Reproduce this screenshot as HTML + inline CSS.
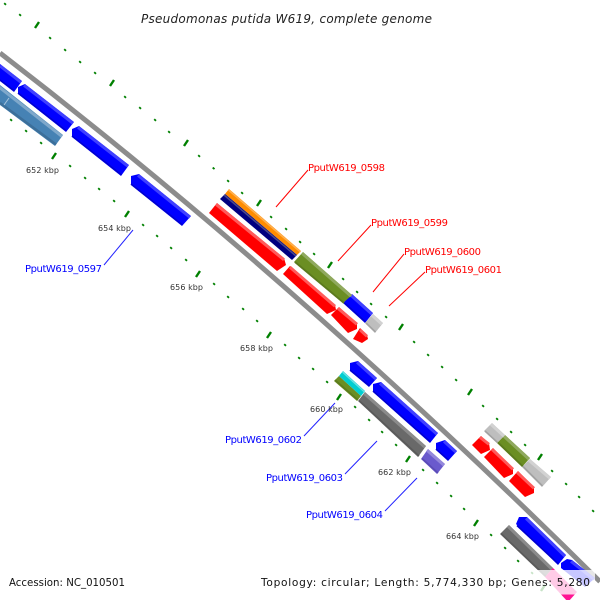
<!DOCTYPE html>
<html><head><meta charset="utf-8"><style>
html,body{margin:0;padding:0;background:#fff}
svg{display:block}
text{font-family:"DejaVu Sans","Liberation Sans",sans-serif}
.k{font-size:8px;fill:#333}
.r{font-size:10px;fill:#f00}
.b{font-size:10px;fill:#00f}
</style></head><body>
<svg width="600" height="600" viewBox="0 0 600 600" xmlns="http://www.w3.org/2000/svg">
<text x="141" y="23" font-size="12" font-style="italic" fill="#222" textLength="291" lengthAdjust="spacing">Pseudomonas putida W619, complete genome</text>

<!-- minor ticks -->
<path fill="none" stroke="#008000" stroke-width="2.4" d="
M4.500 4.700l1.200-1.400M19.500 15.700l1.200-1.400M49.500 38.700l1.200-1.400M64.500 50.700l1.200-1.400M79.500 62.700l1.200-1.400M94.500 73.700l1.200-1.400M124.500 97.700l1.200-1.400M139.500 108.700l1.200-1.400M154.500 120.700l1.200-1.400M168.500 132.700l1.200-1.400M198.500 156.700l1.200-1.400M213 169l1.200-1.400M227.500 181.700l1.200-1.400M241.500 193.700l1.200-1.400M270.500 217.700l1.200-1.400M285.500 229.700l1.200-1.400M299.500 242.700l1.200-1.400M313.500 254.700l1.200-1.400M342.500 279.700l1.200-1.400M356.500 292.700l1.200-1.400M370.500 304.700l1.200-1.400M385.500 317.700l1.200-1.400M413.500 342.700l1.200-1.400M427.500 355.700l1.200-1.400M441.500 367.700l1.200-1.400M455.500 380.700l1.200-1.400M482.500 406.700l1.200-1.400M496.500 419.700l1.200-1.400M510.500 432.700l1.200-1.400M524.500 445.700l1.200-1.400M551.500 471.700l1.200-1.400M565.500 484.700l1.200-1.400M578.500 497.700l1.200-1.400M592.500 511.700l1.200-1.400
M10.500 120.700l1.200-1.400M25.500 131.700l1.200-1.400M40.500 143.700l1.200-1.400M69.500 166.700l1.200-1.400M84.500 178.700l1.200-1.400M98.500 189.700l1.200-1.400M113.500 201.700l1.200-1.400M142.500 225.700l1.200-1.400M156.500 236.700l1.200-1.400M170.500 248.700l1.200-1.400M185.500 260.700l1.200-1.400M213.500 284.700l1.200-1.400M227.500 297.700l1.200-1.400M242.500 309.700l1.200-1.400M256.500 321.700l1.200-1.400M284.500 345.700l1.200-1.400M298.500 358.700l1.200-1.400M312.500 369.700l1.200-1.400M326.500 382.700l1.200-1.400M354.500 407.700l1.200-1.400M368.500 420.700l1.200-1.400M381.500 432.700l1.200-1.400M395.500 445.700l1.200-1.400M422.500 470.700l1.200-1.400M436.500 483.700l1.200-1.400M450.500 496.700l1.200-1.400M463.500 509.700l1.200-1.400M490.500 535.700l1.200-1.400M504.500 548.700l1.200-1.400M517.500 561.700l1.200-1.400M531.500 573.700l1.200-1.400"/>
<!-- major ticks -->
<path fill="none" stroke="#008000" stroke-width="2.4" d="
M35 28l4-6M110 86l4-6M184 146l4-6M257 206l4-6M328 268l4-6M399 330l4-6M468 395l4-6M538 460l4-6
M52 159l4-6M125 217l4-6M196 277l4-6M267 338l4-6M337 400l4-6M406 462l4-6M474 526l4-6M541 591l4-6"/>

<!-- backbone -->
<path d="M0 53Q300 284 600 581.600" fill="none" stroke="#8c8c8c" stroke-width="5"/>

<!-- steel blue -->
<polygon fill="#4682b4" points="0,85 63,135 55,146 0,105"/>
<path stroke="#7fa8cb" stroke-width="3" d="M-1 87L62 136.500"/>
<path stroke="#3c6f9a" stroke-width="2.500" d="M0 103L56 144.500"/>
<path stroke="#a8c4dc" stroke-width="1" d="M9 98L4 105"/>

<!-- blue genes -->
<g fill="#0000ff">
<polygon points="0,64 22,81 14,92 0,81"/>
<polygon points="18,87 25,84 74,122 66,132 18,94"/>
<polygon points="72,129 79,126 129,165 121,176 72,137"/>
<polygon points="131,176 139,174 191,216 182,226 131,185"/>
<polygon points="343,303 352,294 373,313 365,323"/>
<polygon points="350,363 358,361 377,378 369,387 350,371"/>
<polygon points="373,384 381,382 438,433 430,443 373,392"/>
<polygon points="436,443 445,440 457,451 448,461 436,450"/>
<polygon points="516,524 519,517 527,517 566,555 558,565"/>
<polygon points="561,563 567,559 572,560 595,578 585,587 561,568"/>
</g>
<g fill="none" stroke="#4040ff" stroke-width="3">
<path d="M0 65.800L21 82.300"/><path d="M24 85.300L73 123.300"/><path d="M78 127.300L128 166.300"/><path d="M138 175.300L190 217.300"/>
<path d="M351 295.300L372 314.300"/><path d="M357 362.300L376 379.300"/><path d="M380 383.300L437 434.300"/><path d="M444 441.300L456 452.300"/>
<path d="M526 518.300L565 556.300"/><path d="M571 561.300L594 579.300"/>
</g>
<g fill="none" stroke="#0000d0" stroke-width="1.600">
<path d="M0 80L14.500 91"/><path d="M18 93L66.500 131"/><path d="M72 136L121.500 175"/><path d="M131 184L182.500 225"/>
<path d="M344 302.500L365.500 322"/><path d="M350 370L369.500 386"/><path d="M373 391L430.500 442"/><path d="M436 449L448.500 460"/>
<path d="M517 525.500L558.500 564"/>
</g>

<!-- red genes -->
<g fill="#ff0000">
<polygon points="209,213 217,203 284,258 286,265 277,271"/>
<polygon points="283,274 290,266 335,305 336,310 327,314"/>
<polygon points="331,315 339,307 357,323 357,329 348,333"/>
<polygon points="353,339 360,328 367,335 368,339 362,343"/>
<polygon points="472,445 481,436 489,443 490,450 481,454"/>
<polygon points="484,457 493,448 513,468 513,474 504,478"/>
<polygon points="509,481 518,471 534,487 534,493 525,497"/>
</g>
<g fill="none" stroke="#ff5a5a" stroke-width="3">
<path d="M216 204.300L284 259.800"/><path d="M290 267.300L335 306.300"/><path d="M338 308.300L357 324.300"/><path d="M360 329.800L367 336.300"/>
<path d="M480 437.300L489 444.300"/><path d="M492 449.300L513 469.300"/><path d="M517 472.300L534 488.300"/>
</g>

<!-- orange / navy -->
<polygon fill="#ff8c00" points="225,194 229,189 301,251 297,255"/>
<path stroke="#ffb050" stroke-width="1.500" d="M228.500 190L300.500 252"/>
<polygon fill="#000080" points="220,199 225,194 297,255 292,260"/>
<path stroke="#4a4a8c" stroke-width="1.500" d="M224 195L296 256"/>

<!-- olive -->
<polygon fill="#6b8e23" points="294,262 303,252 352,295 343,303"/>
<path stroke="#90a95e" stroke-width="3" d="M302 253.300L351 296.300"/>
<path stroke="#5b7a1e" stroke-width="1.800" d="M295 262L344 303"/>
<polygon fill="#6b8e23" points="334,381 339,376 361,396 357,401"/>
<path stroke="#5b7a1e" stroke-width="1.500" d="M335 380L358 400"/>
<polygon fill="#6b8e23" points="497,443 505,435 530,458 522,467"/>
<path stroke="#90a95e" stroke-width="3" d="M504 436.300L529 459.300"/>
<path stroke="#5b7a1e" stroke-width="1.800" d="M498 442.500L523 466.500"/>

<!-- cyan -->
<polygon fill="#00ced1" points="339,376 343,371 365,391 361,396"/>
<path stroke="#66e0e2" stroke-width="1.500" d="M342.500 372L364.500 392"/>

<!-- light grey -->
<g fill="#bebebe">
<polygon points="365,323 373,314 383,323 375,333"/>
<polygon points="484,431 492,423 505,435 497,443"/>
<polygon points="522,467 530,459 551,477 542,487"/>
</g>
<g stroke="#d2d2d2" stroke-width="3">
<path d="M372 315.300L382 324.300"/><path d="M491 424.300L504 436.300"/><path d="M529 460.300L550 478.300"/>
</g>
<g stroke="#a2a2a2" stroke-width="1.600">
<path d="M366 323L375.500 332"/><path d="M485 431L497.500 442.500"/><path d="M523 466.500L542.500 486"/>
</g>

<!-- dark grey -->
<g fill="#696969">
<polygon points="358,401 365,392 426,446 418,457"/>
<polygon points="500,534 509,525 553,568 545,577"/>
</g>
<g stroke="#8b8b8b" stroke-width="3">
<path d="M364 393.300L425 447.300"/><path d="M508 526.300L552 569.300"/>
</g>
<g stroke="#5a5a5a" stroke-width="1.600">
<path d="M359 400.500L419 456"/><path d="M501 533.500L546 576.500"/>
</g>

<!-- slate -->
<polygon fill="#6a5acd" points="421,459 428,449 445,464 437,474"/>
<path stroke="#9488dc" stroke-width="3" d="M427 450.300L444 465.300"/>
<path stroke="#5a4bb5" stroke-width="1.600" d="M422 458.500L438 473"/>

<!-- pink -->
<polygon fill="#ff1493" points="545,577 553,568 577,592 568,602"/>

<!-- overlays -->
<rect x="255" y="570" width="340" height="24.500" fill="#fff" fill-opacity=".78"/>
<rect x="4" y="570" width="126" height="24.500" fill="#fff" fill-opacity=".78"/>

<!-- leader lines -->
<g stroke="#f00" stroke-width="1" fill="none">
<path d="M276 207L308 170"/><path d="M338 261L371 225"/><path d="M373 292L404 254"/><path d="M389 306L425 272"/>
</g>
<g stroke="#22f" stroke-width="1" fill="none">
<path d="M104 265L133 230"/><path d="M304 436L335 403"/><path d="M345 474L377 441"/><path d="M385 511L417 478"/>
</g>

<!-- labels -->
<text class="r" x="308" y="171" textLength="77">PputW619_0598</text>
<text class="r" x="371" y="226" textLength="77">PputW619_0599</text>
<text class="r" x="404" y="255" textLength="77">PputW619_0600</text>
<text class="r" x="425" y="273" textLength="77">PputW619_0601</text>
<text class="b" x="25" y="272" textLength="77">PputW619_0597</text>
<text class="b" x="225" y="443" textLength="77">PputW619_0602</text>
<text class="b" x="266" y="481" textLength="77">PputW619_0603</text>
<text class="b" x="306" y="518" textLength="77">PputW619_0604</text>

<text class="k" x="26" y="173" textLength="33">652 kbp</text>
<text class="k" x="98" y="231" textLength="33">654 kbp</text>
<text class="k" x="170" y="290" textLength="33">656 kbp</text>
<text class="k" x="240" y="351" textLength="33">658 kbp</text>
<text class="k" x="310" y="412" textLength="33">660 kbp</text>
<text class="k" x="378" y="475" textLength="33">662 kbp</text>
<text class="k" x="446" y="539" textLength="33">664 kbp</text>

<text x="9" y="586" font-size="10.2" fill="#111" textLength="116">Accession: NC_010501</text>
<text x="261" y="586" font-size="10.6" fill="#111" textLength="329">Topology: circular; Length: 5,774,330 bp; Genes: 5,280</text>
</svg>
</body></html>
